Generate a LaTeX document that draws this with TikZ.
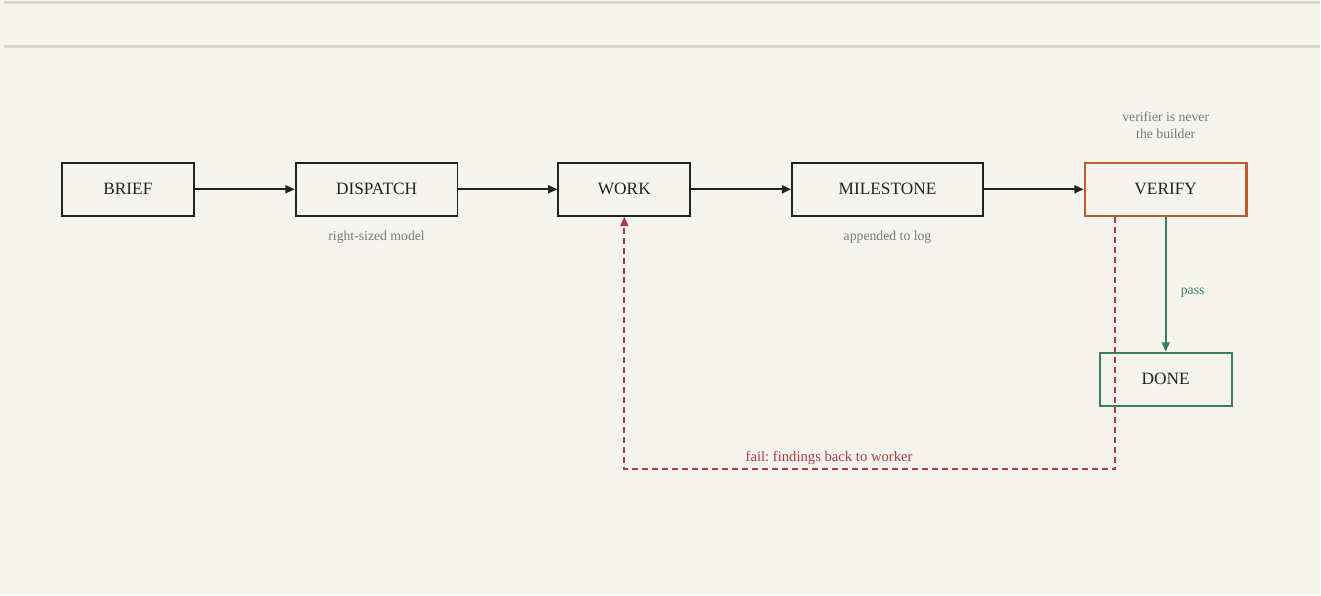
\documentclass[tikz,border=0pt]{standalone}
\usepackage{fontspec}
\setmainfont{Liberation Serif}
\usetikzlibrary{arrows.meta}
\definecolor{paper}{HTML}{F6F4EF}
\definecolor{rule}{HTML}{DDD8CB}
\definecolor{ink}{HTML}{222222}
\definecolor{note}{HTML}{7A7A7A}
\definecolor{verifyc}{HTML}{C05A35}
\definecolor{passc}{HTML}{3C7F57}
\definecolor{failc}{HTML}{B03A46}
\frenchspacing

\begin{document}
\begin{tikzpicture} [x=0.75pt, y=-0.75pt, line width=1.5pt,
        stepbox/.style={shape=rectangle, draw=ink, minimum height=39.75pt, font=\fontsize{13}{15}\selectfont, text=ink},
        notetext/.style={font=\fontsize{10.3}{13}\selectfont, text=note, align=center},
        flow/.style={draw=ink, line width=1.5pt, -{Triangle[length=7pt, width=6pt]}}]
        \fill [paper] (0, 0) rectangle (1321, 596);
        \draw [rule, line width=1.8pt] (4, 2.5) -- (1321, 2.5);
        \draw [rule, line width=2.2pt] (4, 47) -- (1321, 47);
        % main row
        \node [stepbox, minimum width=99pt] (brief) at (128, 189.5) {BRIEF};
        \node [stepbox, minimum width=121.5pt] (dispatch) at (377, 189.5) {DISPATCH};
        \node [stepbox, minimum width=99pt] (work) at (625, 189.5) {WORK};
        \node [stepbox, minimum width=143.25pt] (milestone) at (888.5, 189.5) {MILESTONE};
        \node [stepbox, minimum width=121.5pt, draw=verifyc, line width=1.8pt] (verify) at (1167, 189.5) {VERIFY};
        \node [stepbox, minimum width=99pt, draw=passc] (done) at (1167, 379.5) {DONE};
        \foreach \a/\b in {brief/dispatch, dispatch/work, work/milestone, milestone/verify}
        {
            \draw [flow] (\a.east) -- (\b.west);
        }
        % notes
        \node [notetext] (dispatchnote) at (377, 237.5) {right-sized model};
        \node [notetext] (milestonenote) at (888.5, 237.5) {appended to log};
        \node [notetext] (verifynote) at (1167, 125.5) {verifier is never\\the builder};
        % pass and fail
        \draw [flow, draw=passc, -{Triangle[length=7pt, width=6pt, fill=passc]}] (verify.south) -- (done.north);
        \node [notetext, text=passc] (passlabel) at (1194, 293) {pass};
        \coordinate (failcorner) at (625, 470);
        \draw [flow, draw=failc, dash pattern=on 4.5pt off 3pt, -{Triangle[length=7pt, width=6pt, fill=failc]}]
            ([xshift=-38.25pt]verify.south) |- (failcorner) -- (work.south);
        \node [notetext, text=failc, font=\fontsize{11}{13}\selectfont] (faillabel) at (830, 458) {fail: findings back to worker};
    \end{tikzpicture}
\end{document}
